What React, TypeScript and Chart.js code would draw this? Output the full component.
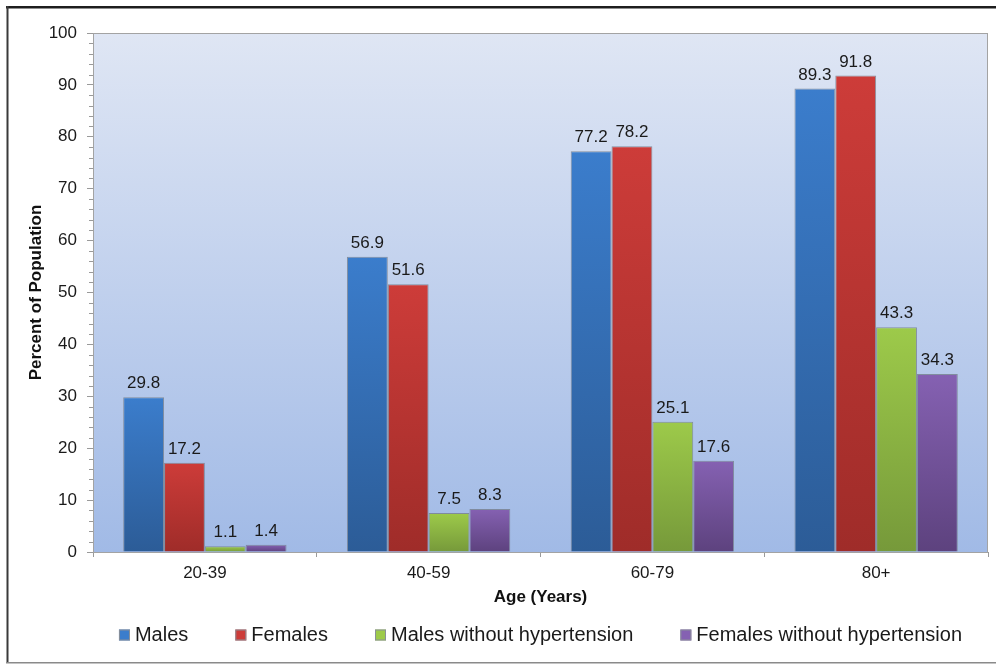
import React, { useEffect, useRef } from "react";
import { Chart, registerables } from "chart.js";

Chart.register(...registerables);

const categories = ["20-39", "40-59", "60-79", "80+"];
const seriesNames = ["Males", "Females", "Males without hypertension", "Females without hypertension"];
const males = [29.8, 56.9, 77.2, 89.3];
const females = [17.2, 51.6, 78.2, 91.8];
const malesNoHtn = [1.1, 7.5, 25.1, 43.3];
const femalesNoHtn = [1.4, 8.3, 17.6, 34.3];
const seriesValues = [males, females, malesNoHtn, femalesNoHtn];
const topColors = ["#3b7dcc", "#cd3c39", "#9dca4a", "#8561b2"];
const bottomColors = ["#2c5c97", "#9f2c29", "#76993a", "#5d427e"];
const yTicksMajor = [0, 10, 20, 30, 40, 50, 60, 70, 80, 90, 100];

const FONT = "'Liberation Sans', Arial, sans-serif";

const gradientFill = (i: number) => (ctx: any) => {
  const chart = ctx.chart;
  if (!chart.chartArea || ctx.type !== "data") return topColors[i];
  const ys = chart.scales.y;
  const v = ctx.parsed ? ctx.parsed.y : ctx.raw;
  const yTop = ys.getPixelForValue(v);
  const yBot = ys.getPixelForValue(0);
  if (!isFinite(yTop) || !isFinite(yBot) || yBot - yTop < 1) return topColors[i];
  const g = chart.ctx.createLinearGradient(0, yTop, 0, yBot);
  g.addColorStop(0, topColors[i]);
  g.addColorStop(1, bottomColors[i]);
  return g;
};

const framePlugin = {
  id: "frame",
  beforeDraw(chart: any) {
    const { ctx, chartArea: a, width, height } = chart;
    ctx.save();
    ctx.fillStyle = "#ffffff";
    ctx.fillRect(0, 0, width, height);
    const g = ctx.createLinearGradient(0, a.top, 0, a.bottom);
    g.addColorStop(0, "#dfe6f4");
    g.addColorStop(1, "#a1bae6");
    ctx.fillStyle = g;
    ctx.fillRect(a.left, a.top, a.right - a.left, a.bottom - a.top);
    // outer frame
    ctx.fillStyle = "#1e1e1e";
    ctx.fillRect(6, 6, width - 6, 2.5);
    ctx.fillStyle = "#3a3a3a";
    ctx.fillRect(6.5, 6, 2, 657);
    ctx.fillStyle = "#8a8a8a";
    ctx.fillRect(6, 662, width - 6, 1.5);
    ctx.restore();
  },
  afterDatasetsDraw(chart: any) {
    const { ctx, chartArea: a } = chart;
    const ys = chart.scales.y;
    ctx.save();
    // plot border
    ctx.strokeStyle = "#a3a3a3";
    ctx.lineWidth = 1;
    ctx.strokeRect(a.left + 0.5, a.top + 0.5, a.right - a.left - 1, a.bottom - a.top);
    // minor ticks
    ctx.strokeStyle = "#9a9a9a";
    ctx.beginPath();
    for (let v = 0; v <= 100; v += 2) {
      if (v % 10 === 0) continue;
      const y = Math.round(ys.getPixelForValue(v)) + 0.5;
      ctx.moveTo(a.left - 4, y);
      ctx.lineTo(a.left, y);
    }
    ctx.stroke();
    // value labels
    ctx.fillStyle = "#1a1a1a";
    ctx.font = `17px ${FONT}`;
    ctx.textAlign = "center";
    ctx.textBaseline = "alphabetic";
    chart.data.datasets.forEach((ds: any, di: number) => {
      const meta = chart.getDatasetMeta(di);
      meta.data.forEach((el: any, i: number) => {
        ctx.fillText(String(ds.data[i]), el.x, el.y - 9);
      });
    });
    ctx.restore();
  },
  afterDraw(chart: any) {
    const { ctx, chartArea: a } = chart;
    ctx.save();
    ctx.font = `20px ${FONT}`;
    ctx.textBaseline = "middle";
    ctx.textAlign = "left";
    const box = 11;
    const gap = 5;
    const spacing = 47;
    const widths = seriesNames.map((n) => box + gap + ctx.measureText(n).width);
    const total = widths.reduce((s, w) => s + w, 0) + spacing * (widths.length - 1);
    let x = (a.left + a.right) / 2 - total / 2;
    const cy = 635;
    seriesNames.forEach((n, i) => {
      ctx.fillStyle = topColors[i];
      ctx.fillRect(x, cy - box / 2, box, box);
      ctx.strokeStyle = "#8a9099";
      ctx.lineWidth = 1;
      ctx.strokeRect(x + 0.5, cy - box / 2 + 0.5, box - 1, box - 1);
      ctx.fillStyle = "#1a1a1a";
      ctx.fillText(n, x + box + gap, cy);
      x += widths[i] + spacing;
    });
    ctx.restore();
  },
};

export default function App() {
  const ref = useRef<HTMLCanvasElement | null>(null);
  useEffect(() => {
    if (!ref.current) return;
    const chart = new Chart(ref.current, {
      type: "bar",
      data: {
        labels: categories,
        datasets: seriesValues.map((vals, i) => ({
          label: seriesNames[i],
          data: vals,
          backgroundColor: gradientFill(i),
          borderColor: "rgba(120,130,145,0.85)",
          borderWidth: 1,
          categoryPercentage: 0.73,
          barPercentage: 1,
        })),
      },
      options: {
        responsive: false,
        animation: false,
        devicePixelRatio: 1,
        layout: { padding: { top: 33, right: 8, bottom: 55, left: 0 } },
        plugins: {
          legend: { display: false },
          tooltip: { enabled: false },
        },
        scales: {
          x: {
            offset: true,
            grid: { display: true, drawOnChartArea: false, tickLength: 5, tickColor: "#9a9a9a", offset: true },
            border: { display: true, color: "#9a9a9a" },
            ticks: { color: "#1a1a1a", font: { family: FONT, size: 17 }, padding: 6 },
            title: {
              display: true,
              text: "Age (Years)",
              color: "#111111",
              font: { family: FONT, size: 17, weight: "bold" },
              padding: { top: 4, bottom: 2 },
            },
            afterFit: (s: any) => {
              s.height = 58;
            },
          },
          y: {
            min: 0,
            max: 100,
            afterBuildTicks: (s: any) => {
              s.ticks = yTicksMajor.map((v) => ({ value: v }));
            },
            grid: { display: true, drawOnChartArea: false, tickLength: 6, tickColor: "#9a9a9a" },
            border: { display: true, color: "#9a9a9a" },
            ticks: { color: "#1a1a1a", font: { family: FONT, size: 17 }, padding: 10 },
            title: {
              display: true,
              text: "Percent of Population",
              color: "#111111",
              font: { family: FONT, size: 17, weight: "bold" },
              padding: { top: 26, bottom: 0 },
            },
            afterFit: (s: any) => {
              s.width = 93;
            },
          },
        },
      },
      plugins: [framePlugin],
    });
    return () => chart.destroy();
  }, []);
  return (
    <div style={{ position: "fixed", left: 0, top: 0, width: 996, height: 665, background: "#fff" }}>
      <canvas ref={ref} width={996} height={665} style={{ width: 996, height: 665, display: "block" }} />
    </div>
  );
}
